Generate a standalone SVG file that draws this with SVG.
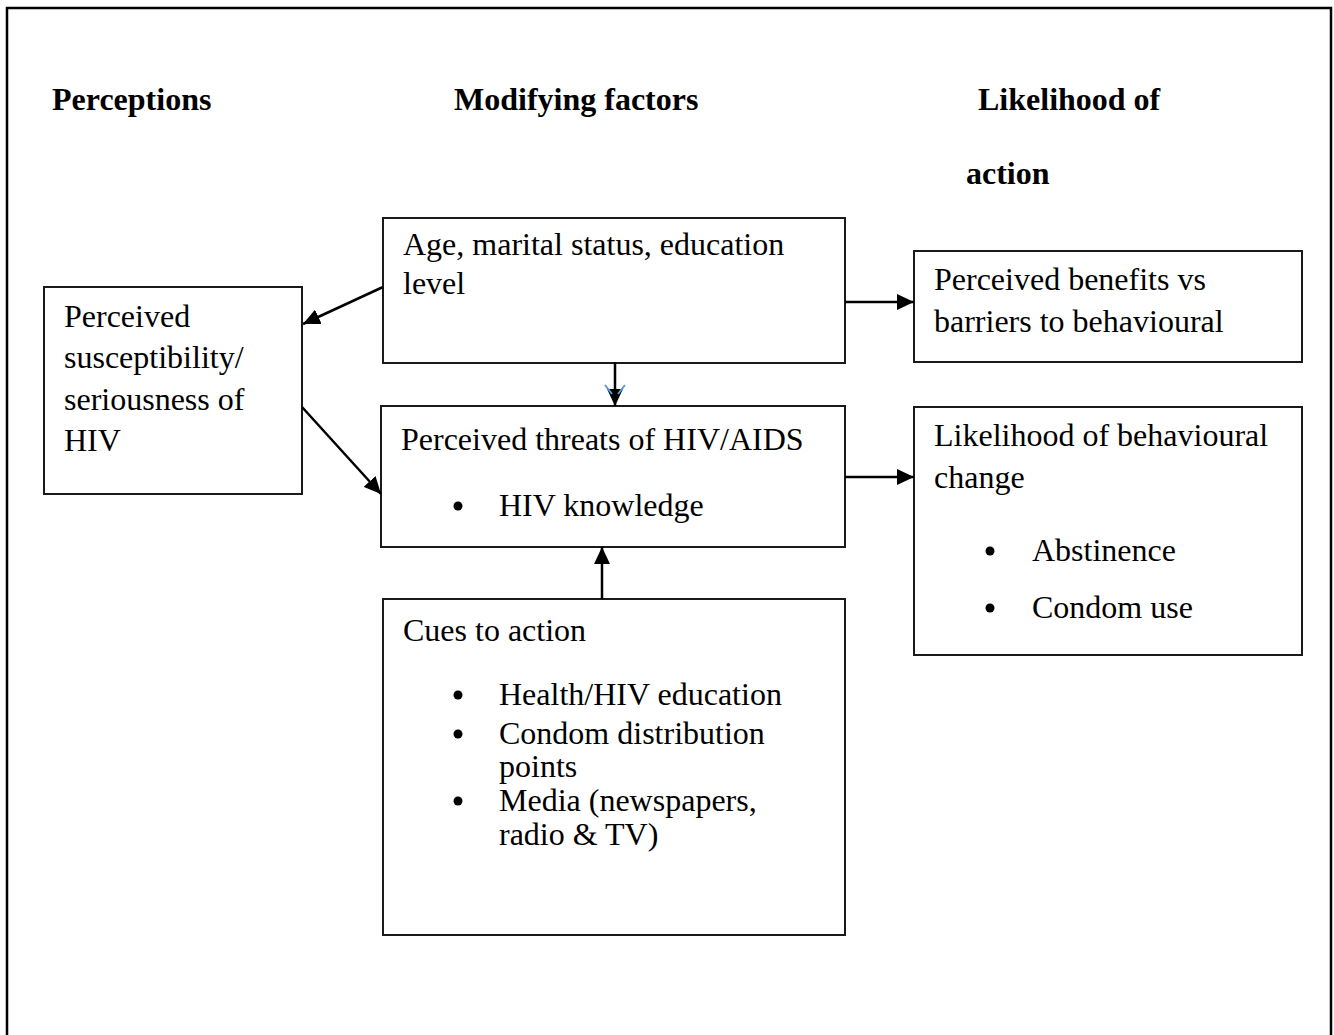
<svg xmlns="http://www.w3.org/2000/svg" width="1334" height="1035" viewBox="0 0 1334 1035">
<style>
text{font-family:"Liberation Serif","Times New Roman",serif;font-size:32px;fill:#000}
.h{font-weight:bold}
.box{fill:#fff;stroke:#1a1a1a;stroke-width:2}
.ar{stroke:#000;stroke-width:2.5;fill:none;marker-end:url(#ah)}
</style>
<defs>
<marker id="ah" markerUnits="userSpaceOnUse" markerWidth="18" markerHeight="16" refX="17" refY="8" orient="auto">
<path d="M0,0 L17,8 L0,16 z" fill="#000"/>
</marker>
</defs>
<rect x="7" y="8" width="1324" height="1040" fill="#fff" stroke="#000" stroke-width="2.5"/>
<g id="headings">
<text class="h" x="52" y="110">Perceptions</text>
<text class="h" x="454" y="110">Modifying factors</text>
<text class="h" x="978" y="110">Likelihood of</text>
<text class="h" x="966" y="184">action</text>
</g>
<g id="perceived-susceptibility">
<rect class="box" x="44" y="287" width="258" height="207"/>
<text x="64" y="327">Perceived</text>
<text x="64" y="368">susceptibility/</text>
<text x="64" y="410">seriousness of</text>
<text x="64" y="451">HIV</text>
</g>
<g id="modifying-demographics">
<rect class="box" x="383" y="218" width="462" height="145"/>
<text x="403" y="255">Age, marital status, education</text>
<text x="403" y="294">level</text>
</g>
<g id="perceived-benefits">
<rect class="box" x="914" y="251" width="388" height="111"/>
<text x="934" y="290">Perceived benefits vs</text>
<text x="934" y="332">barriers to behavioural</text>
</g>
<g id="perceived-threats">
<rect class="box" x="381" y="406" width="464" height="141"/>
<text x="401" y="450">Perceived threats of HIV/AIDS</text>
<circle cx="458" cy="506" r="4.5"/>
<text x="499" y="516">HIV knowledge</text>
</g>
<g id="likelihood-change">
<rect class="box" x="914" y="407" width="388" height="248"/>
<text x="934" y="446">Likelihood of behavioural</text>
<text x="934" y="488">change</text>
<circle cx="990" cy="551" r="4.5"/>
<text x="1032" y="561">Abstinence</text>
<circle cx="990" cy="608" r="4.5"/>
<text x="1032" y="618">Condom use</text>
</g>
<g id="cues-to-action">
<rect class="box" x="383" y="599" width="462" height="336"/>
<text x="403" y="641">Cues to action</text>
<circle cx="458" cy="695" r="4.5"/>
<text x="499" y="705">Health/HIV education</text>
<circle cx="458" cy="734" r="4.5"/>
<text x="499" y="744">Condom distribution</text>
<text x="499" y="777">points</text>
<circle cx="458" cy="801" r="4.5"/>
<text x="499" y="811">Media (newspapers,</text>
<text x="499" y="845">radio &amp; TV)</text>
</g>
<g id="connectors">
<line class="ar" x1="383" y1="287" x2="303" y2="324"/>
<line class="ar" x1="302" y1="407" x2="381" y2="494"/>
<line class="ar" x1="615" y1="362" x2="615" y2="406"/>
<path d="M605,385 L612,394 M625,385 L618,394" stroke="#5b9bd5" stroke-width="2" fill="none"/>
<line class="ar" x1="845" y1="302" x2="914" y2="302"/>
<line class="ar" x1="845" y1="477" x2="914" y2="477"/>
<line class="ar" x1="602" y1="599" x2="602" y2="547"/>
</g>
</svg>
